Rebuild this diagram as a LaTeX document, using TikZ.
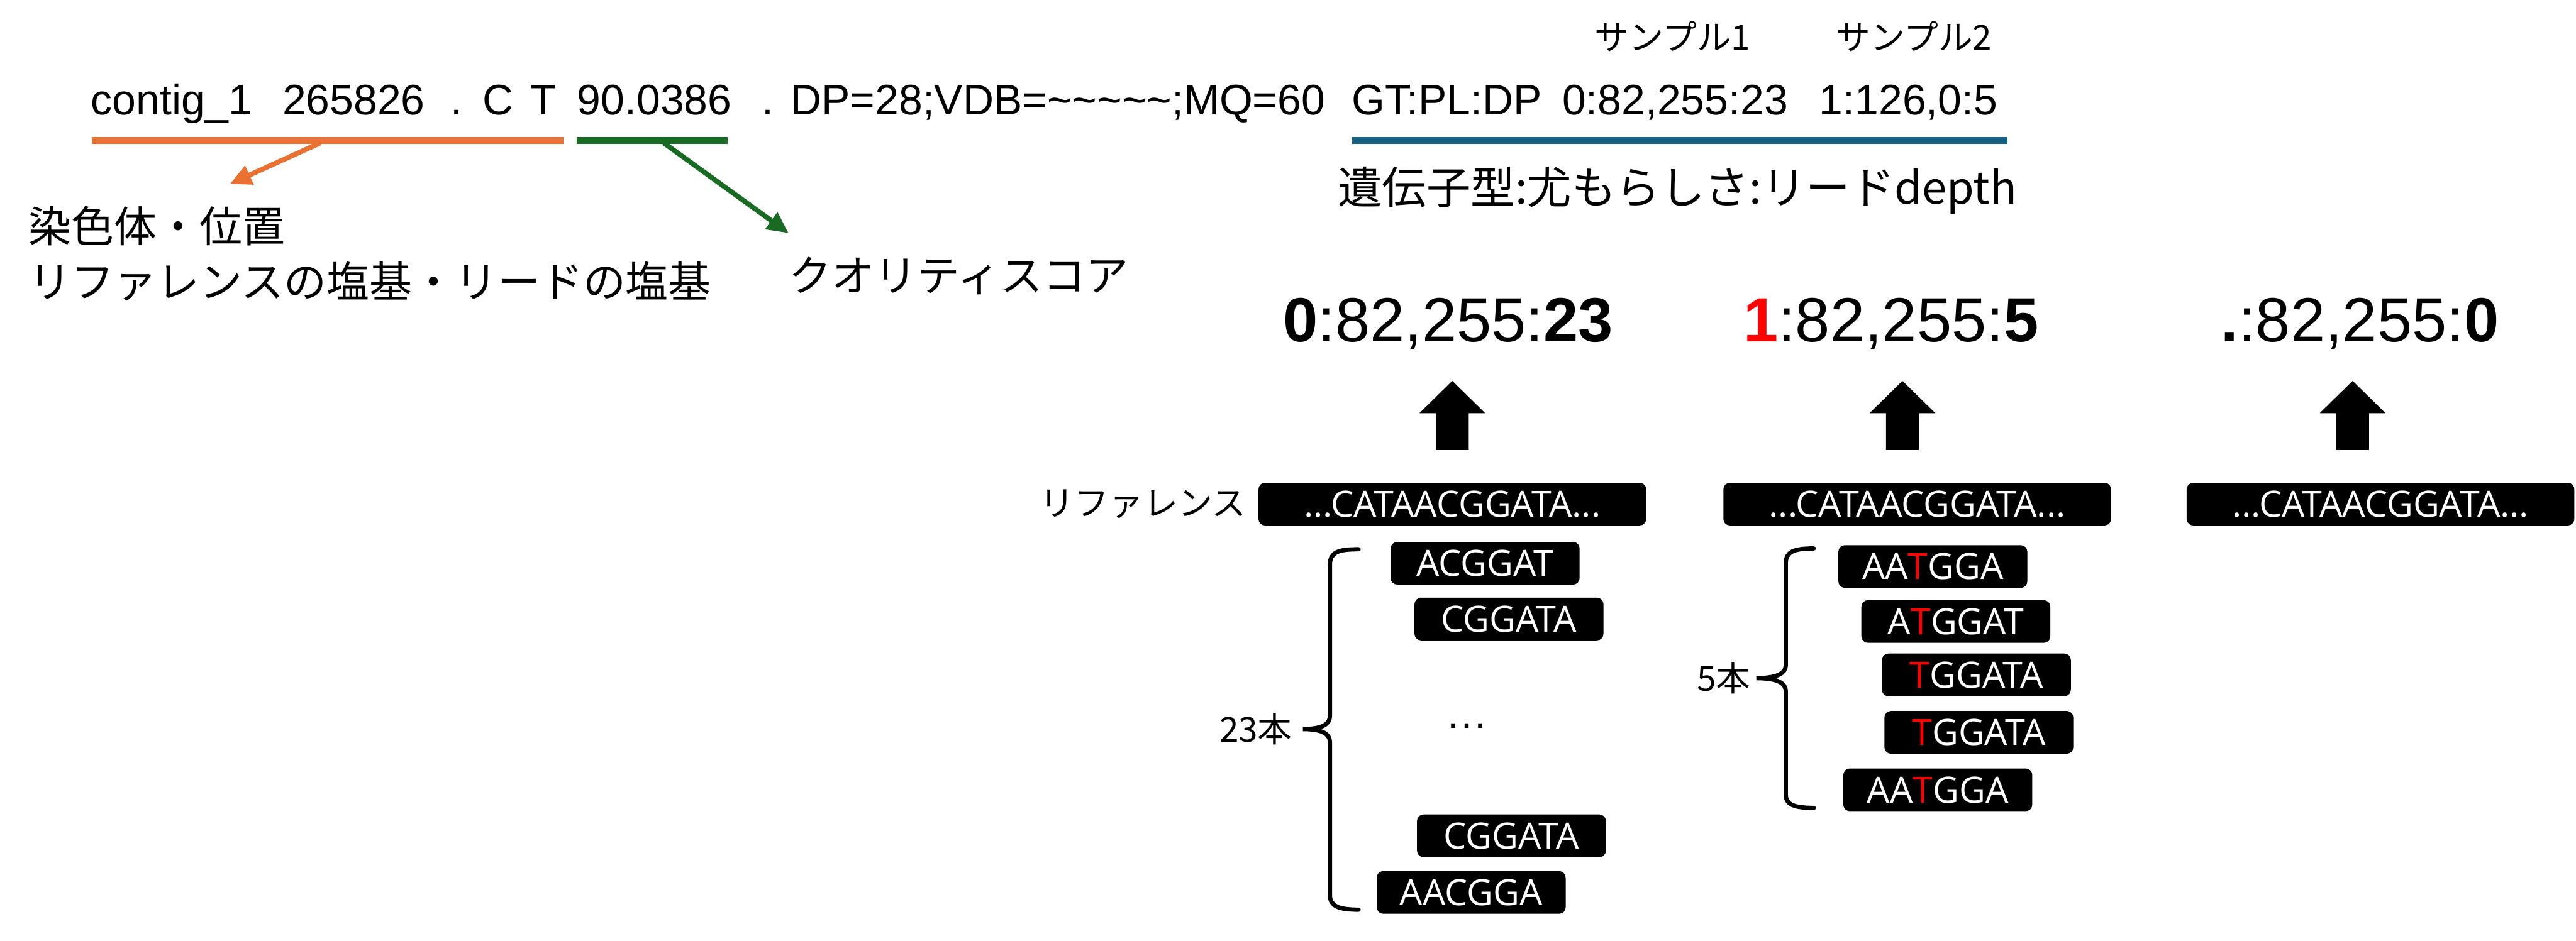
\documentclass[tikz,border=0pt]{standalone}
\usepackage{fontspec}
\setmainfont{Liberation Sans}
\newfontfamily\jp{Noto Sans CJK JP}
\newfontfamily\rd{Open Sans}
\usetikzlibrary{arrows.meta}
\definecolor{orangeC}{HTML}{E97132}
\definecolor{greenC}{HTML}{196B24}
\definecolor{blueC}{HTML}{156082}
\definecolor{redC}{HTML}{FF0000}
\begin{document}
\begin{tikzpicture}[x=0.5pt,y=-0.5pt,
  vcf/.style={anchor=base west, inner sep=0pt, font=\fontsize{13pt}{15pt}\selectfont},
  jplabel/.style={anchor=west, inner sep=0pt, font=\jp\fontsize{13pt}{15pt}\selectfont},
  smalljp/.style={inner sep=0pt, font=\jp\fontsize{10.5pt}{12pt}\selectfont},
  big/.style={anchor=base, inner sep=0pt, font=\fontsize{19pt}{21pt}\selectfont},
  refbox/.style={fill=black, rounded corners=2pt, minimum width=118pt, minimum height=13pt,
    inner sep=0pt, text=white, font=\rd\fontsize{11pt}{13pt}\selectfont},
  readbox/.style={refbox, minimum width=57.5pt},
  uline/.style={line width=2.15pt},
  callout/.style={line width=1.5pt, -{Triangle[length=6.5pt,width=6pt]}},
  bracepath/.style={line width=1.3pt, line cap=round},
  blockarrow/.style={fill=black},
  mut/.style={text=redC}
]
\useasboundingbox (0,0) rectangle (1568,573);

% VCF line
\node[vcf] (f1) at (55,70) {contig\_1};
\node[vcf] (f2) at (171.5,70) {265826};
\node[vcf] (f3) at (274,70) {.};
\node[vcf] (f4) at (293.5,70) {C};
\node[vcf] (f5) at (322.5,70) {T};
\node[vcf] (f6) at (351,70) {90.0386};
\node[vcf] (f7) at (463.5,70) {.};
\node[vcf] (f8) at (481,70) {DP=28;VDB=\textasciitilde\textasciitilde\textasciitilde\textasciitilde\textasciitilde;MQ=60};
\node[vcf] (f9) at (822.5,70) {GT:PL:DP};
\node[vcf] (f10) at (950.5,70) {0:82,255:23};
\node[vcf] (f11) at (1107,70) {1:126,0:5};

\node[smalljp] (s1) at (1018,22) {サンプル1};
\node[smalljp] (s2) at (1165,22) {サンプル2};

% underlines
\draw[uline, orangeC] (56,85.5) -- (343,85.5);
\draw[uline, greenC] (351,85.5) -- (443,85.5);
\draw[uline, blueC] (823,85.5) -- (1222,85.5);

\coordinate (oS) at (195,87);
\coordinate (oE) at (140,112);
\coordinate (gS) at (404,87);
\coordinate (gE) at (480,142);
\draw[callout, orangeC] (oS) -- (oE);
\draw[callout, greenC] (gS) -- (gE);

\node[jplabel] (l1) at (17,137.5) {染色体・位置};
\node[jplabel] (l2) at (17,171.5) {リファレンスの塩基・リードの塩基};
\node[jplabel] (l3) at (480,168) {クオリティスコア};
\node[inner sep=0pt, font=\jp\fontsize{13.5pt}{15pt}\selectfont] (l4) at (1021,116) {遺伝子型:尤もらしさ:リードdepth};

% genotype labels
\node[big] (g1) at (881.5,208) {\textbf{0}:82,255:\textbf{23}};
\node[big] (g2) at (1151,208) {\textbf{\textcolor{redC}{1}}:82,255:\textbf{5}};
\node[big] (g3) at (1436.5,208) {\textbf{.}:82,255:\textbf{0}};

% block arrows
\foreach \x in {884,1158,1432}{
  \fill[blockarrow] (\x,232) -- (\x+20,251.6) -- (\x+10,251.6) -- (\x+10,274)
    -- (\x-10,274) -- (\x-10,251.6) -- (\x-20,251.6) -- cycle;
}

% reference
\node[smalljp, anchor=east] (reflabel) at (759,307) {リファレンス};
\node[refbox] (ref1) at (884,307) {...CATAACGGATA...};
\node[refbox] (ref2) at (1167,307) {...CATAACGGATA...};
\node[refbox] (ref3) at (1449,307) {...CATAACGGATA...};

% reads sample 1
\node[readbox] (r1) at (904,343) {ACGGAT};
\node[readbox] (r2) at (918.5,377) {CGGATA};
\node[inner sep=0pt, font=\fontsize{13pt}{15pt}\selectfont] (rdots) at (893,442) {…};
\node[readbox] (r3) at (920,509) {CGGATA};
\node[readbox] (r4) at (895.5,543.5) {AACGGA};

% reads sample 2
\node[readbox] (q1) at (1176.5,345) {AA\textcolor{redC}{T}GGA};
\node[readbox] (q2) at (1190.5,378.5) {A\textcolor{redC}{T}GGAT};
\node[readbox] (q3) at (1203,411) {\textcolor{redC}{T}GGATA};
\node[readbox] (q4) at (1204.5,446) {\textcolor{redC}{T}GGATA};
\node[readbox] (q5) at (1179.5,481) {AA\textcolor{redC}{T}GGA};

% braces
\draw[bracepath] (827,334.5) .. controls (815,334.5) and (809.5,336) .. (809.5,344)
  -- (809.5,436) .. controls (809.5,441) and (805,444) .. (793,444)
  .. controls (805,444) and (809.5,447) .. (809.5,452)
  -- (809.5,545) .. controls (809.5,552) and (815,554) .. (827,554);
\draw[bracepath] (1104,334) .. controls (1092,334) and (1087,336) .. (1087,343)
  -- (1087,405) .. controls (1087,410) and (1082,413) .. (1069,413)
  .. controls (1082,413) and (1087,416) .. (1087,421)
  -- (1087,484) .. controls (1087,490) and (1092,492) .. (1104,492);

\node[smalljp, anchor=east] (n23) at (787,444) {23本};
\node[smalljp, anchor=east] (n5) at (1066,413) {5本};
\end{tikzpicture}
\end{document}
